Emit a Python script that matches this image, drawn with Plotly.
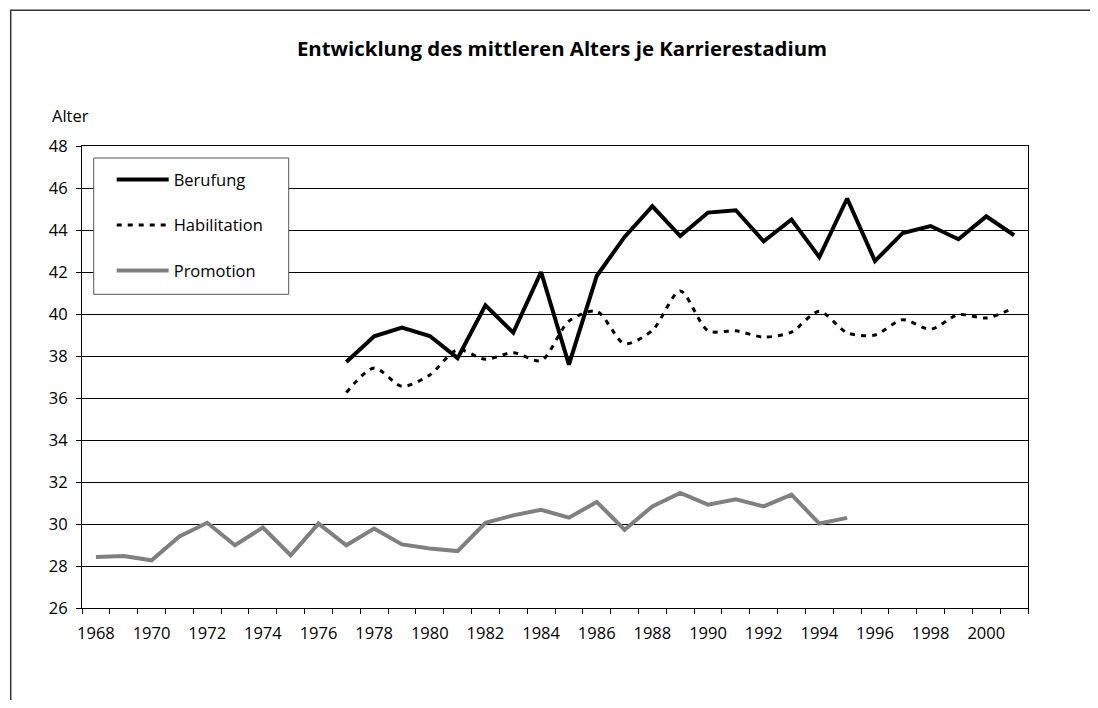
import plotly.graph_objects as go

years = list(range(1968, 2002))

berufung_years = list(range(1977, 2002))
berufung = [37.71, 38.94, 39.35, 38.95, 37.90, 40.41, 39.11, 42.00, 37.59, 41.81,
            43.67, 45.13, 43.71, 44.83, 44.94, 43.46, 44.50, 42.71, 45.50, 42.52,
            43.86, 44.19, 43.56, 44.65, 43.75]

habilitation_years = list(range(1977, 2002))
habilitation = [36.26, 37.43, 36.56, 37.10, 38.30, 37.84, 38.16, 37.78, 39.66, 40.13,
                38.59, 39.22, 41.10, 39.20, 39.20, 38.90, 39.14, 40.13, 39.10, 39.00,
                39.73, 39.27, 39.97, 39.81, 40.29]

promotion_years = list(range(1968, 1996))
promotion = [28.43, 28.48, 28.27, 29.41, 30.06, 28.99, 29.83, 28.51, 30.02, 28.99,
             29.78, 29.03, 28.83, 28.71, 30.06, 30.41, 30.68, 30.30, 31.05, 29.73,
             30.84, 31.48, 30.92, 31.18, 30.84, 31.40, 30.02, 30.29]

label_years = list(range(1968, 2001, 2))
y_ticks = list(range(26, 49, 2))

FONT = "Open Sans"
FS = 16.5

# page body has an 8px margin; figure sized to fit the window without scrolling
OFF = 8
W, H = 1098 - 2 * OFF, 708 - 2 * OFF
PL, PR, PT, PB = 82.3 - OFF, 1028.3 - OFF, 145.7 - OFF, 607.7 - OFF
PW, PH = PR - PL, PB - PT


def px(x):
    return (x - OFF - PL) / PW


def py(y):
    return (PB - (y - OFF)) / PH


fig = go.Figure()
fig.add_trace(go.Scatter(x=berufung_years, y=berufung, name="Berufung", mode="lines",
                         line=dict(color="#000000", width=4), legendgroup="a"))
fig.add_trace(go.Scatter(x=habilitation_years, y=habilitation, name="Habilitation", mode="lines",
                         line=dict(color="#000000", width=3, dash="5px,6px", shape="spline", smoothing=0.8),
                         legendgroup="b"))
fig.add_trace(go.Scatter(x=promotion_years, y=promotion, name="Promotion", mode="lines",
                         line=dict(color="#808080", width=4), legendgroup="c"))

fig.update_layout(
    width=W, height=H,
    margin=dict(l=PL, r=W - PR, t=PT, b=H - PB, autoexpand=False),
    paper_bgcolor="white", plot_bgcolor="white",
    font=dict(family=FONT, size=FS, color="#000000"),
    title=dict(text="<b>Entwicklung des mittleren Alters je Karrierestadium</b>",
               x=(562 - OFF) / W, xanchor="center", y=1 - (49 - OFF) / H, yanchor="middle",
               font=dict(family=FONT, size=20.4, color="#000000")),
    showlegend=True,
    legend=dict(x=px(112), y=py(162), xanchor="left", yanchor="top",
                borderwidth=0, bgcolor="rgba(0,0,0,0)",
                tracegroupgap=21, traceorder="grouped",
                font=dict(family=FONT, size=FS, color="#000000"),
                itemwidth=52),
    annotations=[dict(text="Alter", xref="paper", yref="paper",
                      x=px(50), y=py(115), xanchor="left", yanchor="middle",
                      showarrow=False, font=dict(family=FONT, size=FS, color="#000000"))],
    shapes=[
        dict(type="rect", xref="paper", yref="paper",
             x0=px(11), x1=px(1120), y0=py(730), y1=py(10),
             line=dict(color="#333333", width=1.5), fillcolor="rgba(0,0,0,0)", layer="below"),
        dict(type="rect", xref="paper", yref="paper",
             x0=px(94), x1=px(289), y0=py(294), y1=py(157.7),
             line=dict(color="#555555", width=1), fillcolor="white", layer="above"),
    ],
)

fig.update_xaxes(
    range=[1967.5, 2001.5], tickmode="array", tickvals=label_years,
    ticktext=[str(y) for y in label_years],
    ticks="outside", ticklen=10, tickcolor="rgba(0,0,0,0)",
    showgrid=False, zeroline=False,
    showline=True, linecolor="#000000", linewidth=1, mirror=True,
    minor=dict(tick0=1967.5, dtick=1, ticks="outside", ticklen=5, tickcolor="#000000", showgrid=False),
    tickfont=dict(family=FONT, size=FS, color="#000000"),
)
fig.update_yaxes(
    range=[26, 48], tickmode="array", tickvals=y_ticks,
    ticks="outside", ticklen=5, tickcolor="#000000",
    showgrid=True, gridcolor="#000000", gridwidth=1, zeroline=False,
    showline=True, linecolor="#000000", linewidth=1, mirror=True,
    ticklabelstandoff=5,
    tickfont=dict(family=FONT, size=FS, color="#000000"),
)

fig.write_html("out.html")
